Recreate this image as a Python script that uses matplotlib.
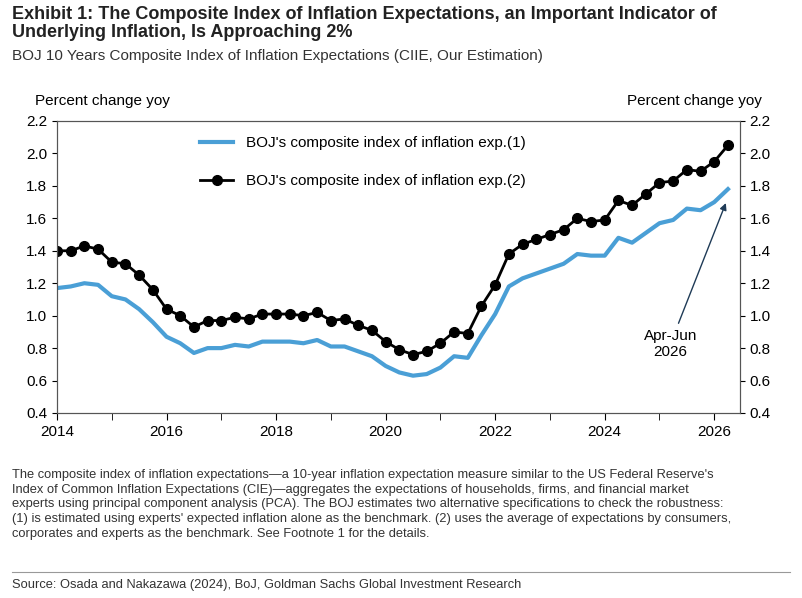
import matplotlib.pyplot as plt
import numpy as np

start_year = 2014
cie1 = [1.17,1.18,1.20,1.19,1.12,1.10,1.04,0.96,0.87,0.83,0.77,0.80,0.80,0.82,0.81,0.84,
        0.84,0.84,0.83,0.85,0.81,0.81,0.78,0.75,0.69,0.65,0.63,0.64,0.68,0.75,0.74,0.88,
        1.01,1.18,1.23,1.26,1.29,1.32,1.38,1.37,1.37,1.48,1.45,1.51,1.57,1.59,1.66,1.65,1.70,1.78]
cie2 = [1.40,1.40,1.43,1.41,1.33,1.32,1.25,1.16,1.04,1.00,0.93,0.97,0.97,0.99,0.98,1.01,
        1.01,1.01,1.00,1.02,0.97,0.98,0.94,0.91,0.84,0.79,0.76,0.78,0.83,0.90,0.89,1.06,
        1.19,1.38,1.44,1.47,1.50,1.53,1.60,1.58,1.59,1.71,1.68,1.75,1.82,1.83,1.90,1.89,1.95,2.05]
x = start_year + np.arange(len(cie1)) * 0.25

plt.rcParams['font.family'] = ['Liberation Sans', 'DejaVu Sans']
fig = plt.figure(figsize=(8.03, 5.98), dpi=100)
W, H = 803, 598
ax = fig.add_axes([57/W, 1-413/H, (740-57)/W, (413-121)/H])
ax.plot(x, cie1, color='#4a9fd6', lw=3, label="BOJ's composite index of inflation exp.(1)")
ax.plot(x, cie2, color='black', lw=2, marker='o', ms=7, label="BOJ's composite index of inflation exp.(2)")
ax.set_xlim(2014, 2026.47)
ax.set_ylim(0.4, 2.2)
ax.set_xticks(range(2014, 2027, 2))
ax.set_xticks(range(2015, 2027, 2), minor=True)
ticks = np.arange(0.4, 2.21, 0.2)
ax.set_yticks(ticks)
ax.set_yticklabels([f"{v:.1f}" for v in ticks])
ax.tick_params(labelsize=11, direction='out')
ax.tick_params(axis='x', which='both', length=5)
ax2 = ax.twinx()
ax2.set_ylim(0.4, 2.2)
ax2.set_yticks(ticks)
ax2.set_yticklabels([f"{v:.1f}" for v in ticks])
ax2.tick_params(labelsize=11)
for a in (ax, ax2):
    for s in a.spines.values():
        s.set_color('#555555')
ax.legend(loc='upper left', bbox_to_anchor=(0.2, 0.97), frameon=False, fontsize=11,
          handlelength=2.2, labelspacing=1.6, borderaxespad=0)
ax.annotate('Apr-Jun\n2026', xy=(x[-1]-0.02, 1.71), xytext=(2025.2, 0.92),
            ha='center', va='top', fontsize=11,
            arrowprops=dict(arrowstyle='-|>', color='#1f3b57', lw=1, mutation_scale=10))
fig.text(35/W, 1-108/H, 'Percent change yoy', fontsize=11, va='bottom')
fig.text(762/W, 1-108/H, 'Percent change yoy', fontsize=11, va='bottom', ha='right')

fig.text(12/W, 1-6/H, 'Exhibit 1: The Composite Index of Inflation Expectations, an Important Indicator of\nUnderlying Inflation, Is Approaching 2%',
         fontsize=13, fontweight='bold', va='top', color='#222222', linespacing=1.1)
fig.text(12/W, 1-49/H, 'BOJ 10 Years Composite Index of Inflation Expectations (CIIE, Our Estimation)',
         fontsize=11, va='top', color='#333333')
note = ("The composite index of inflation expectations\u2014a 10-year inflation expectation measure similar to the US Federal Reserve's\n"
        "Index of Common Inflation Expectations (CIE)\u2014aggregates the expectations of households, firms, and financial market\n"
        "experts using principal component analysis (PCA). The BOJ estimates two alternative specifications to check the robustness:\n"
        "(1) is estimated using experts' expected inflation alone as the benchmark. (2) uses the average of expectations by consumers,\n"
        "corporates and experts as the benchmark. See Footnote 1 for the details.")
fig.text(12/W, 1-469/H, note, fontsize=9.3, va='top', color='#333333', linespacing=1.3)
fig.add_artist(plt.Line2D([12/W, 790/W], [1-572/H, 1-572/H], color='#999999', lw=0.8))
fig.text(12/W, 1-579/H, 'Source: Osada and Nakazawa (2024), BoJ, Goldman Sachs Global Investment Research',
         fontsize=9.3, va='top', color='#333333')
fig.savefig('out.png', dpi=100)
